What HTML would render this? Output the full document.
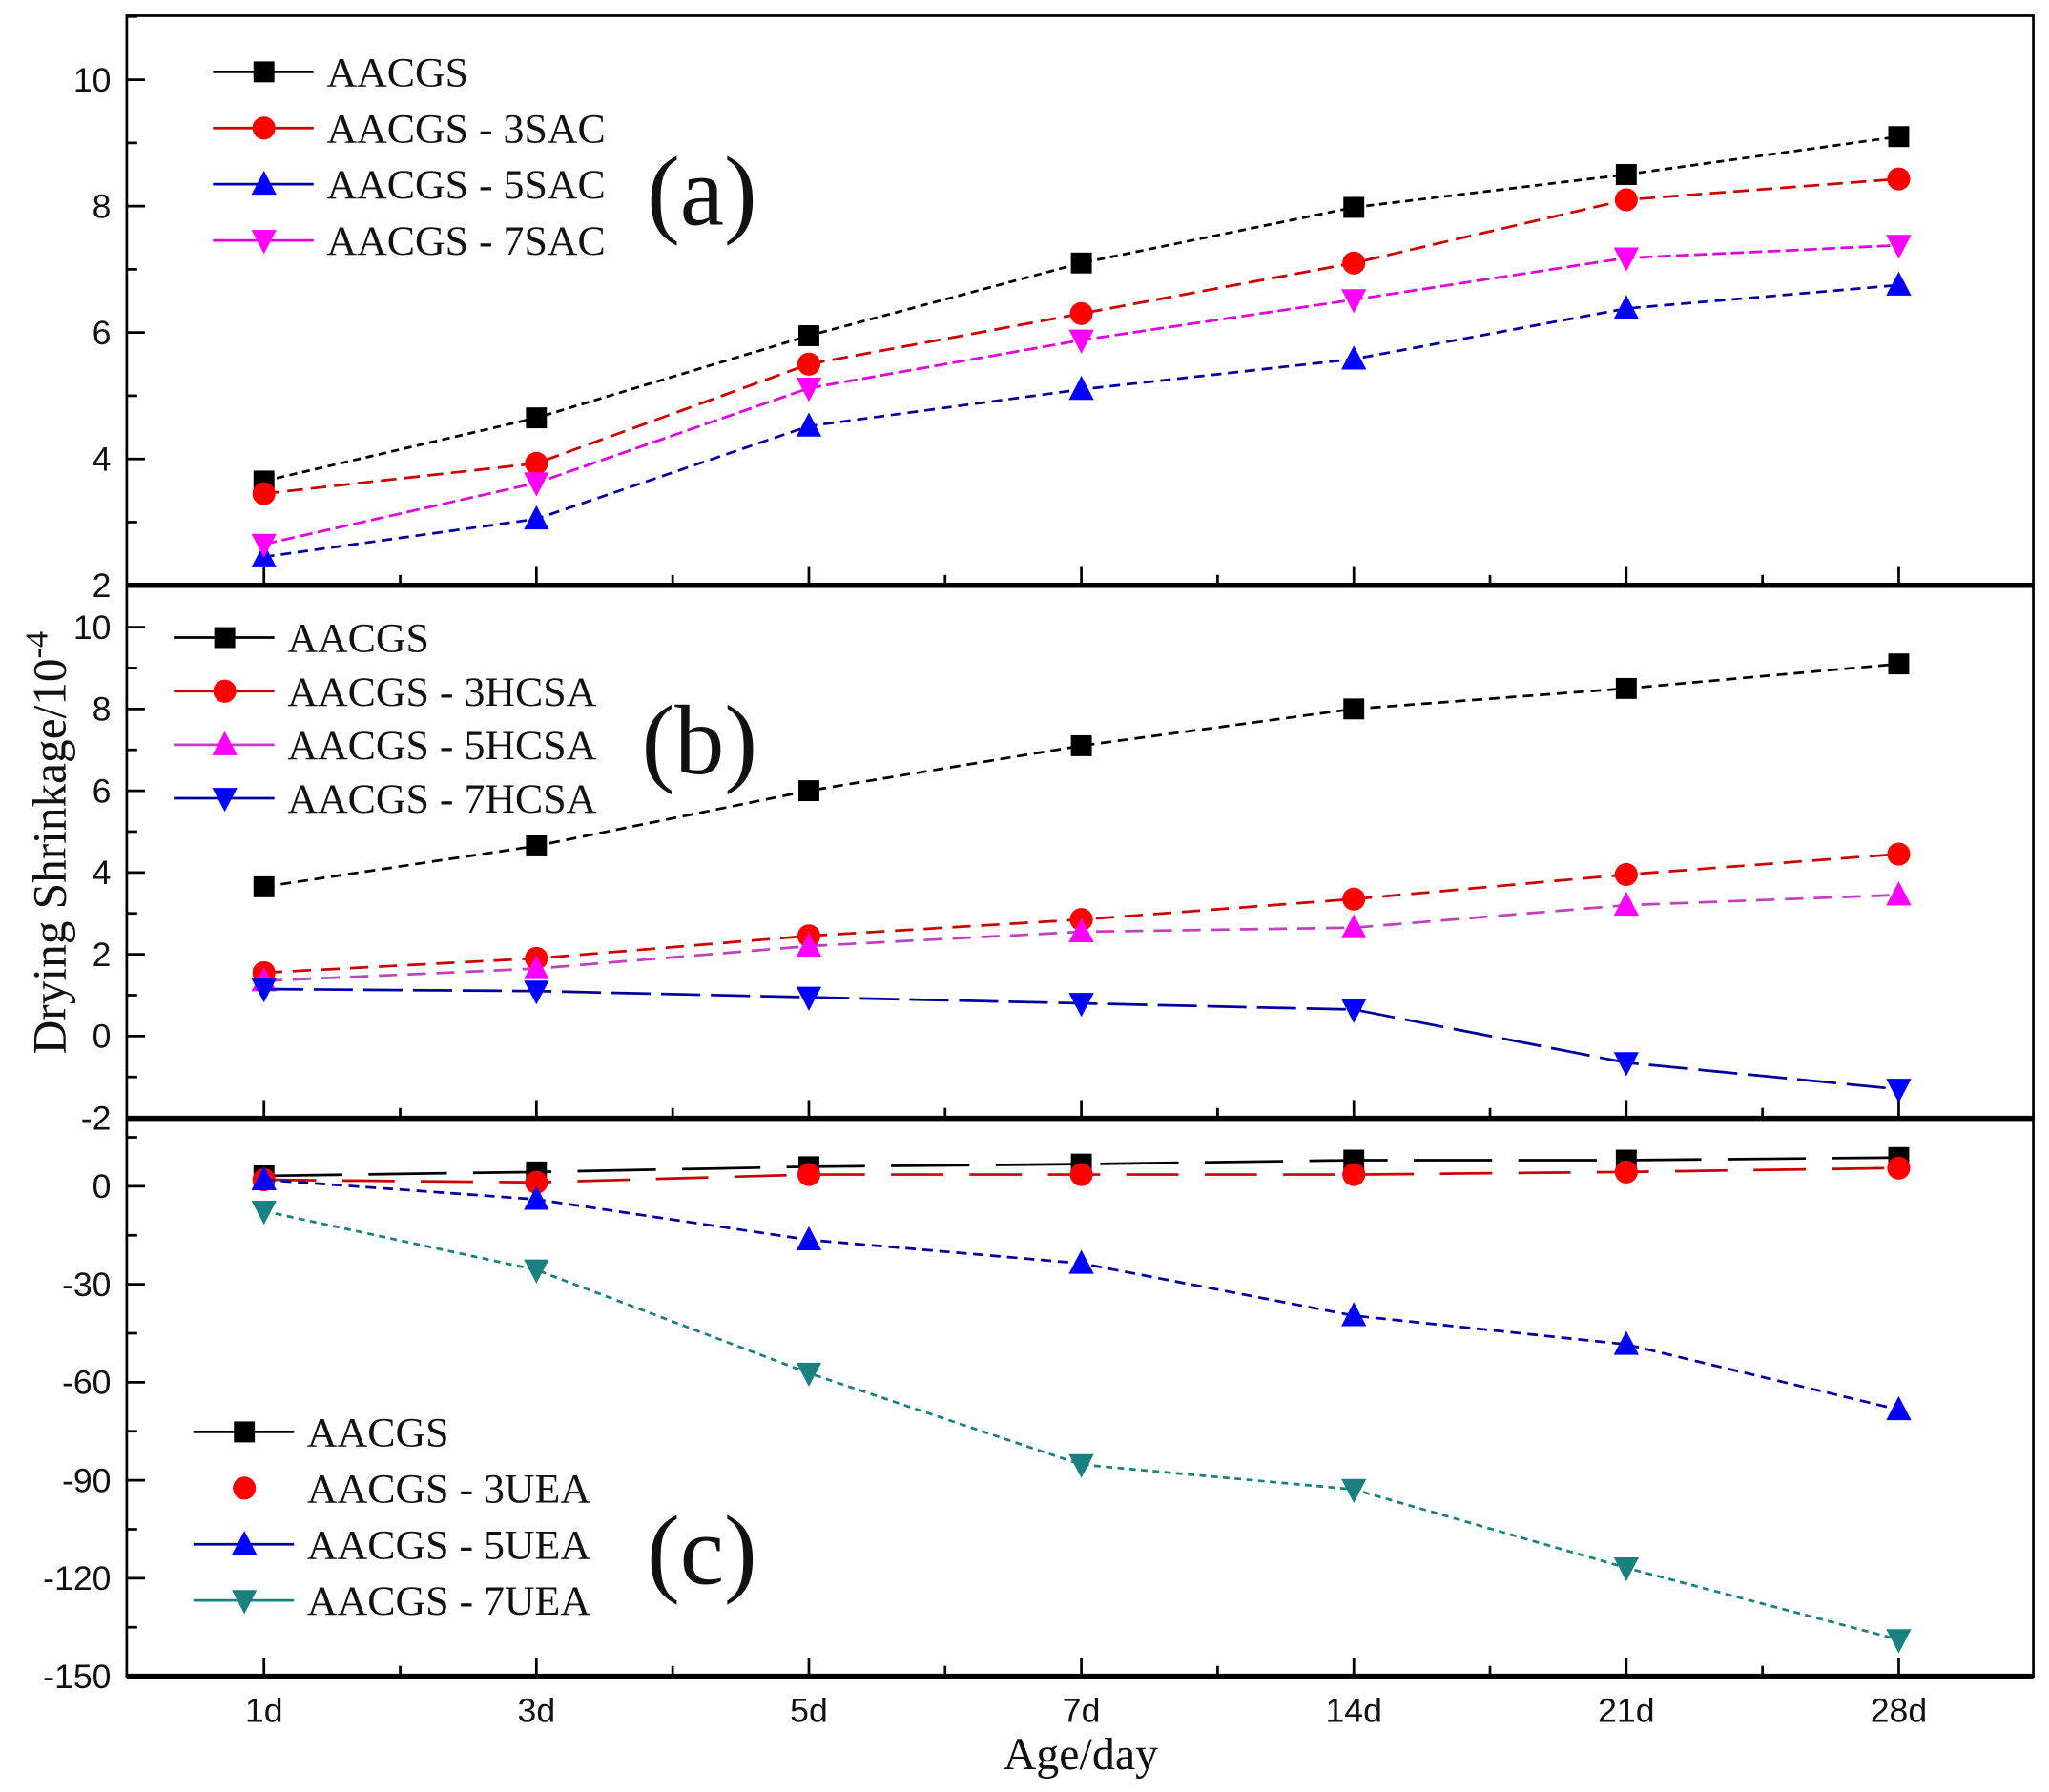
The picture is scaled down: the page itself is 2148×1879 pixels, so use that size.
<!DOCTYPE html>
<html><head><meta charset="utf-8"><style>
html,body{margin:0;padding:0;background:#fff;}
svg{display:block;}
.tk{font-family:"Liberation Sans",Arial,sans-serif;font-size:26px;fill:#111;}
.lg{font-family:"Liberation Serif","Times New Roman",serif;font-size:32px;fill:#111;}
.pl{font-family:"Liberation Serif","Times New Roman",serif;font-size:76px;fill:#111;}
</style></head><body>
<svg id="chart" width="2148" height="1879" viewBox="0 0 1568 1371.6" xmlns="http://www.w3.org/2000/svg">
<rect width="1568" height="1372" fill="#fff"/>
<g id="root"></g>
<text class="pl" x="0" y="0" transform="translate(50,645) rotate(-90)" text-anchor="middle" style="font-size:36px">Drying Shrinkage/10<tspan dy="-14" style="font-size:25px">-4</tspan></text>
<text class="pl" x="827" y="1354" text-anchor="middle" style="font-size:35px">Age/day</text>
</svg>
<script>
const categories = ["1d","3d","5d","7d","14d","21d","28d"];
// Panel (a)
const aNames = ["AACGS","AACGS - 3SAC","AACGS - 5SAC","AACGS - 7SAC"];
const aS1 = [3.65,4.65,5.95,7.1,7.98,8.5,9.1];
const aS2 = [3.45,3.93,5.5,6.3,7.1,8.1,8.43];
const aS3 = [2.45,3.05,4.52,5.1,5.58,6.38,6.75];
const aS4 = [2.65,3.62,5.12,5.88,6.52,7.18,7.38];
const aTicks = [2,4,6,8,10];
// Panel (b)
const bNames = ["AACGS","AACGS - 3HCSA","AACGS - 5HCSA","AACGS - 7HCSA"];
const bS1 = [3.65,4.65,6.0,7.1,8.0,8.5,9.1];
const bS2 = [1.55,1.9,2.45,2.85,3.35,3.95,4.45];
const bS3 = [1.35,1.65,2.2,2.55,2.65,3.2,3.45];
const bS4 = [1.15,1.1,0.95,0.8,0.65,-0.65,-1.3];
const bTicks = [-2,0,2,4,6,8,10];
// Panel (c)
const cNames = ["AACGS","AACGS - 3UEA","AACGS - 5UEA","AACGS - 7UEA"];
const cS1 = [3.2,4.4,6,6.8,8,8,8.8];
const cS2 = [2,1.2,3.6,3.6,3.6,4.4,5.6];
const cS3 = [2,-4,-16.4,-23.6,-39.6,-48.4,-68.4];
const cS4 = [-7.6,-25.6,-57.2,-85.2,-92.8,-116.8,-138.8];
const cTicks = [-150,-120,-90,-60,-30,0];

const NS="http://www.w3.org/2000/svg";
const root=document.getElementById('root');
function mk(tag,attrs,parent){const e=document.createElementNS(NS,tag);for(const k in attrs)e.setAttribute(k,attrs[k]);(parent||root).appendChild(e);return e;}
const X0=202, DX=208.5, LEFT=97, RIGHT=1556;
function xScale(i){return X0+i*DX;}
function marker(g,type,x,y,c,s){
  let e;
  if(type==='sq') e=mk('rect',{x:x-s,y:y-s,width:2*s,height:2*s,fill:c},g);
  else if(type==='ci') e=mk('circle',{cx:x,cy:y,r:s*1.1,fill:c},g);
  else if(type==='up') e=mk('polygon',{points:`${x},${y-s*1.3} ${x-s*1.2},${y+s} ${x+s*1.2},${y+s}`,fill:c},g);
  else e=mk('polygon',{points:`${x},${y+s*1.3} ${x-s*1.2},${y-s} ${x+s*1.2},${y-s}`,fill:c},g);
  return e;
}
function panel(cfg){
  const g=mk('g',{});
  
  
  const yS=v=>cfg.y0+(v-cfg.v0)*(cfg.y1-cfg.y0)/(cfg.v1-cfg.v0);
  const fr=mk('rect',{x:LEFT,y:cfg.top,width:RIGHT-LEFT,height:cfg.bot-cfg.top,fill:'none',stroke:'#000','stroke-width':2},g);
  
  
  mk('line',{x1:LEFT,x2:RIGHT,y1:cfg.bot,y2:cfg.bot,stroke:'#000','stroke-width':4},g);
  for(let i=0;i<categories.length;i++){
    mk('line',{x1:xScale(i),x2:xScale(i),y1:cfg.bot,y2:cfg.bot-14,stroke:'#000','stroke-width':2},g);
    if(i<categories.length-1) mk('line',{x1:xScale(i+0.5),x2:xScale(i+0.5),y1:cfg.bot,y2:cfg.bot-8,stroke:'#000','stroke-width':2},g);
  }
  cfg.ticks.forEach((t,i)=>{
    const y=yS(t);
    mk('line',{x1:LEFT,x2:LEFT+14,y1:y,y2:y,stroke:'#000','stroke-width':2},g);
    const tl=mk('text',{x:LEFT-12,y:y+9,'text-anchor':'end',class:'tk'},g);
    tl.textContent=String(t);
    
    
    if(i<cfg.ticks.length-1){const ym=yS((t+cfg.ticks[i+1])/2);mk('line',{x1:LEFT,x2:LEFT+8,y1:ym,y2:ym,stroke:'#000','stroke-width':2},g);}
  });
  if(cfg.minorTop){const ym=yS(cfg.minorTop);mk('line',{x1:LEFT,x2:LEFT+8,y1:ym,y2:ym,stroke:'#000','stroke-width':2},g);}
  cfg.series.forEach((s,k)=>{
    const sg=mk('g',{},g);
    
    
    const pts=s.data.map((v,i)=>xScale(i)+','+yS(v)).join(' ');
    mk('polyline',{points:pts,fill:'none',stroke:s.c,'stroke-width':2,'stroke-dasharray':s.dash},sg);
    s.data.forEach((v,i)=>{
      const m=marker(sg,s.m,xScale(i),yS(v),s.mc||s.c,8);
      
      
    });
    const ly=cfg.leg.y+k*cfg.leg.dy;
    const lgg=mk('g',{},g);
    
    
    if(!s.noLegLine) mk('line',{x1:cfg.leg.x,x2:cfg.leg.x+77,y1:ly,y2:ly,stroke:s.c,'stroke-width':2},lgg);
    marker(lgg,s.m,cfg.leg.x+39,ly,s.mc||s.c,8);
    const lt=mk('text',{x:cfg.leg.x+87,y:ly+11,class:'lg'},lgg);
    lt.textContent=cfg.names[k];
  });
  const pl=mk('text',{x:cfg.lab.x,y:cfg.lab.y,class:'pl'},g);
  pl.textContent=cfg.lab.t;
  
  
}
panel({name:'panel-a',top:12,bot:448,v0:2,v1:10,y0:448,y1:61,ticks:aTicks,minorTop:11,names:aNames,
 series:[{data:aS1,c:'#000',m:'sq',dash:'6,4'},{data:aS2,c:'#c00',mc:'#f00',m:'ci',dash:'12,6'},{data:aS3,c:'#0000a0',mc:'#00f',m:'up',dash:'8,5'},{data:aS4,c:'#e000e0',mc:'#f0f',m:'dn',dash:'10,4'}],
 leg:{x:163,y:55,dy:43},lab:{x:495,y:172,t:'(a)'}});
panel({name:'panel-b',top:448,bot:856,v0:0,v1:10,y0:793,y1:480,ticks:bTicks,names:bNames,
 series:[{data:bS1,c:'#000',m:'sq',dash:'8,5'},{data:bS2,c:'#c00',mc:'#f00',m:'ci',dash:'14,8'},{data:bS3,c:'#c040c0',mc:'#f0f',m:'up',dash:'14,8'},{data:bS4,c:'#0000a0',mc:'#00f',m:'dn',dash:'30,8'}],
 leg:{x:133,y:488,dy:41},lab:{x:491,y:592,t:'(b)'}});
panel({name:'panel-c',top:856,bot:1283,v0:0,v1:-150,y0:908,y1:1283,ticks:cTicks,minorTop:15,names:cNames,
 series:[{data:cS1,c:'#000',m:'sq',dash:'60,20'},{data:cS2,c:'#c00',mc:'#f00',m:'ci',dash:'40,20',noLegLine:true},{data:cS3,c:'#0000a0',mc:'#00f',m:'up',dash:'8,5'},{data:cS4,c:'#1a8080',mc:'#1a8080',m:'dn',dash:'5,4'}],
 leg:{x:148,y:1096,dy:43},lab:{x:495,y:1212,t:'(c)'}});
categories.forEach((c,i)=>{
  const t=mk('text',{x:xScale(i),y:1318,'text-anchor':'middle',class:'tk'});
  t.textContent=c;
  
  
});
</script>
</body></html>
